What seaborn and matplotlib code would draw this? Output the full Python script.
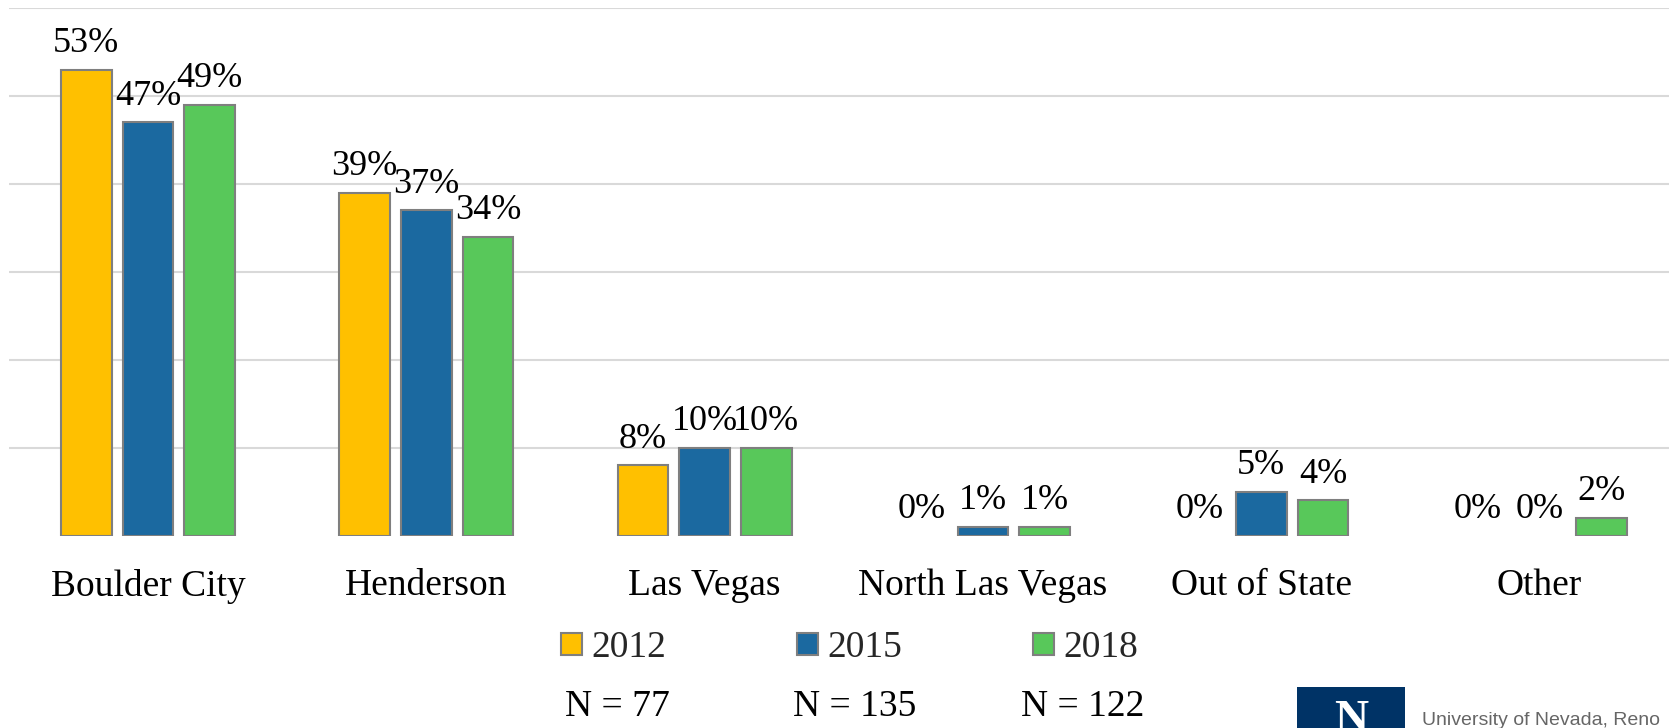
import matplotlib
matplotlib.use("Agg")
import matplotlib.pyplot as plt
from matplotlib.patches import Patch, Rectangle
import seaborn as sns
import pandas as pd

categories = ["Boulder City", "Henderson", "Las Vegas", "North Las Vegas", "Out of State", "Other"]
years = ["2012", "2015", "2018"]
vals_2012 = [53, 39, 8, 0, 0, 0]
vals_2015 = [47, 37, 10, 1, 5, 0]
vals_2018 = [49, 34, 10, 1, 4, 2]
n_labels = ["N = 77", "N = 135", "N = 122"]
colors = ["#FFC000", "#1B69A0", "#58C85A"]

rows = []
for yr, vals in zip(years, [vals_2012, vals_2015, vals_2018]):
    for c, v in zip(categories, vals):
        rows.append({"Location": c, "Year": yr, "Pct": v / 100})
df = pd.DataFrame(rows)

sns.set_theme(style="white")
plt.rcParams["font.family"] = ["Liberation Serif", "DejaVu Serif"]
FS = 27

fig = plt.figure(figsize=(16.69, 7.28), dpi=100)
ax = fig.add_axes([0.0053, 0.2643, 1.0005, 0.7247])

sns.barplot(data=df, x="Location", y="Pct", hue="Year", order=categories,
            hue_order=years, palette=colors, width=0.665, gap=0.18,
            edgecolor="#7F7F7F", linewidth=1.5, ax=ax, legend=False,
            errorbar=None, saturation=1)

# zero-height bars are not visible in the reference
for p in ax.patches:
    if p.get_height() == 0:
        p.set_linewidth(0)

ax.set_ylim(0, 0.6)
ax.set_xlim(-0.5, 5.5)
ax.set_yticks([0.1, 0.2, 0.3, 0.4, 0.5, 0.6])
ax.set_yticklabels([])
ax.yaxis.grid(True, color="#D9D9D9", linewidth=1.5)
ax.set_axisbelow(True)
for s in ax.spines.values():
    s.set_visible(False)
ax.set_xlabel("")
ax.set_ylabel("")
ax.tick_params(axis="x", length=0, pad=24, labelsize=FS, labelcolor="black")
ax.tick_params(axis="y", length=0)

for cont, vals in zip(ax.containers, [vals_2012, vals_2015, vals_2018]):
    ax.bar_label(cont, labels=[f"{v}%" for v in vals], padding=7, fontsize=26, color="black")

handles = [Patch(facecolor=c, edgecolor="#7F7F7F", linewidth=1.5) for c in colors]
fig.legend(handles, years, ncol=3, loc="center", bbox_to_anchor=(0.509, 0.110),
           frameon=False, fontsize=FS, handlelength=0.55, handleheight=0.55,
           handletextpad=0.25, columnspacing=3.5, borderpad=0)

for txt, xp in zip(n_labels, [617, 855, 1083]):
    fig.text(xp / 1669, 1 - 707 / 728, txt, ha="center", va="center", fontsize=FS, color="black")

# logo (partially cut off at bottom, as in the reference)
fig.patches.append(Rectangle((1297 / 1669, 0), 108 / 1669, 41 / 728, transform=fig.transFigure,
                             facecolor="#003366", edgecolor="none"))
fig.text(1351 / 1669, 1 - 700 / 728, "N", ha="center", va="top", fontsize=34,
         color="white", fontweight="bold")
fig.text(1422 / 1669, 1 - 712 / 728, "University of Nevada, Reno", ha="left", va="top",
         fontsize=14, color="#666666", family=["Liberation Sans", "DejaVu Sans"])

fig.savefig("out.png", dpi=100)
